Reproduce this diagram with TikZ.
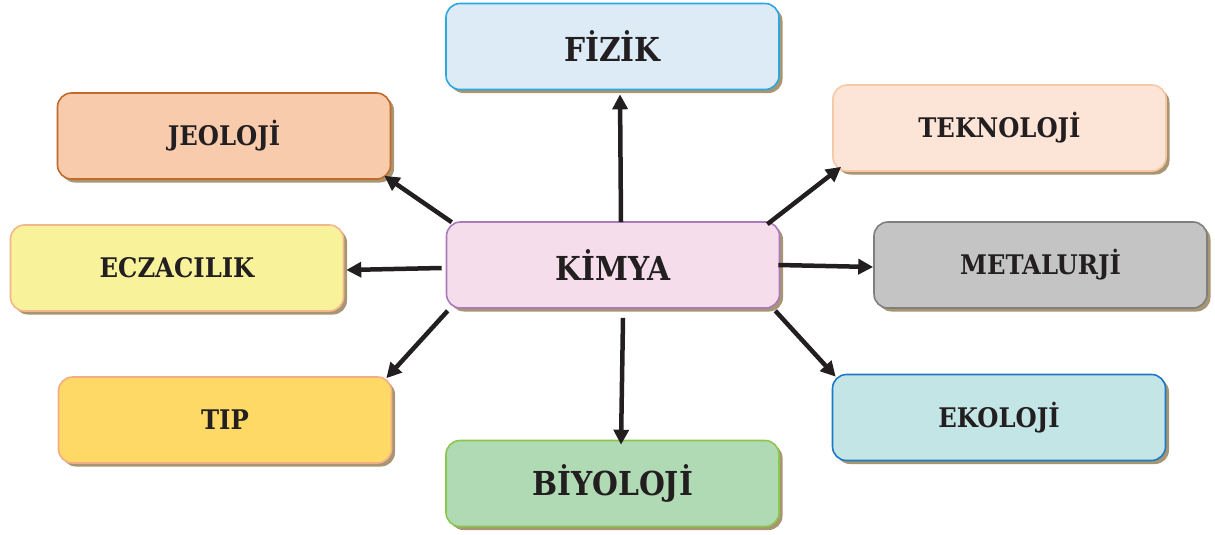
\documentclass[tikz,border=0pt]{standalone}
\usepackage{fontspec}
\setmainfont{DejaVu Serif Condensed}
\usetikzlibrary{arrows.meta,shadows}

\definecolor{txt}{HTML}{231F20}
\definecolor{shade}{HTML}{A89572}
\definecolor{fizfill}{HTML}{DDEBF6}\definecolor{fizdraw}{HTML}{2BA8E0}
\definecolor{jeofill}{HTML}{F8CBAD}\definecolor{jeodraw}{HTML}{C06A2C}
\definecolor{tekfill}{HTML}{FCE4D6}\definecolor{tekdraw}{HTML}{F6C8A6}
\definecolor{kimfill}{HTML}{F6DDEC}\definecolor{kimdraw}{HTML}{A97BBA}
\definecolor{eczfill}{HTML}{F8F29A}\definecolor{eczdraw}{HTML}{F4B68C}
\definecolor{metfill}{HTML}{C4C4C4}\definecolor{metdraw}{HTML}{7F7F7F}
\definecolor{tipfill}{HTML}{FFD966}\definecolor{tipdraw}{HTML}{F3AE86}
\definecolor{biyfill}{HTML}{B0DAB4}\definecolor{biydraw}{HTML}{8CC64F}
\definecolor{ekofill}{HTML}{C4E5E5}\definecolor{ekodraw}{HTML}{1F78C6}

\tikzset{
  field/.style n args={2}{draw=#2, fill=#1, line width=1.6pt, rounded corners=14pt,
    minimum width=333pt, minimum height=86pt, inner sep=0pt, text=txt,
    font=\bfseries\fontsize{27}{27}\selectfont,
    drop shadow={shadow xshift=3.5pt, shadow yshift=-3.5pt, fill=shade, opacity=1}},
  big/.style={font=\bfseries\fontsize{33}{33}\selectfont},
  link/.style={draw=txt, line width=4.5pt, -{Triangle[length=15pt,width=15pt]}}
}

\begin{document}
\begin{tikzpicture}[x=1pt,y=-1pt]
  \useasboundingbox (0,0) rectangle (1215,535);

  % surrounding fields
  \node[field={fizfill}{fizdraw}, big] (fizik) at (612.5,46.5) {FİZİK};
  \node[field={jeofill}{jeodraw}] (jeoloji) at (224,136) {JEOLOJİ};
  \node[field={tekfill}{tekdraw}] (teknoloji) at (999.5,128) {TEKNOLOJİ};
  \node[field={eczfill}{eczdraw}] (eczacilik) at (177,268) {ECZACILIK};
  \node[field={metfill}{metdraw}] (metalurji) at (1040.5,265) {METALURJİ};
  \node[field={tipfill}{tipdraw}] (tip) at (225,420) {TIP};
  \node[field={ekofill}{ekodraw}] (ekoloji) at (999,417.5) {EKOLOJİ};
  \node[field={biyfill}{biydraw}, big] (biyoloji) at (612.5,483.5) {BİYOLOJİ};

  % centre
  \node[field={kimfill}{kimdraw}, big] (kimya) at (613,265) {KİMYA};

  % links from the centre outwards
  \draw[link] ([xshift=8pt,yshift=-1pt]kimya.north) -- ([xshift=7.5pt,yshift=-4pt]fizik.south);
  \draw[link] ([xshift=6pt,yshift=-1pt]kimya.north west) -- ([xshift=-7pt,yshift=4pt]jeoloji.south east);
  \draw[link] ([xshift=-4pt,yshift=-3pt]kimya.west) -- ([xshift=2pt,yshift=-2pt]eczacilik.east);
  \draw[link] ([xshift=2pt,yshift=-2pt]kimya.south west) -- ([xshift=-6pt,yshift=-2pt]tip.north east);
  \draw[link] ([xshift=10pt,yshift=-9pt]kimya.south) -- ([xshift=8.5pt,yshift=-5pt]biyoloji.north);
  \draw[link] ([xshift=-5pt,yshift=-2pt]kimya.south east) -- ([xshift=4pt,yshift=-3pt]ekoloji.north west);
  \draw[link] ([xshift=-2pt]kimya.east) -- ([yshift=-2pt]metalurji.west);
  \draw[link] ([xshift=-13pt,yshift=-3pt]kimya.north east) -- ([xshift=9pt,yshift=5pt]teknoloji.south west);
\end{tikzpicture}
\end{document}
